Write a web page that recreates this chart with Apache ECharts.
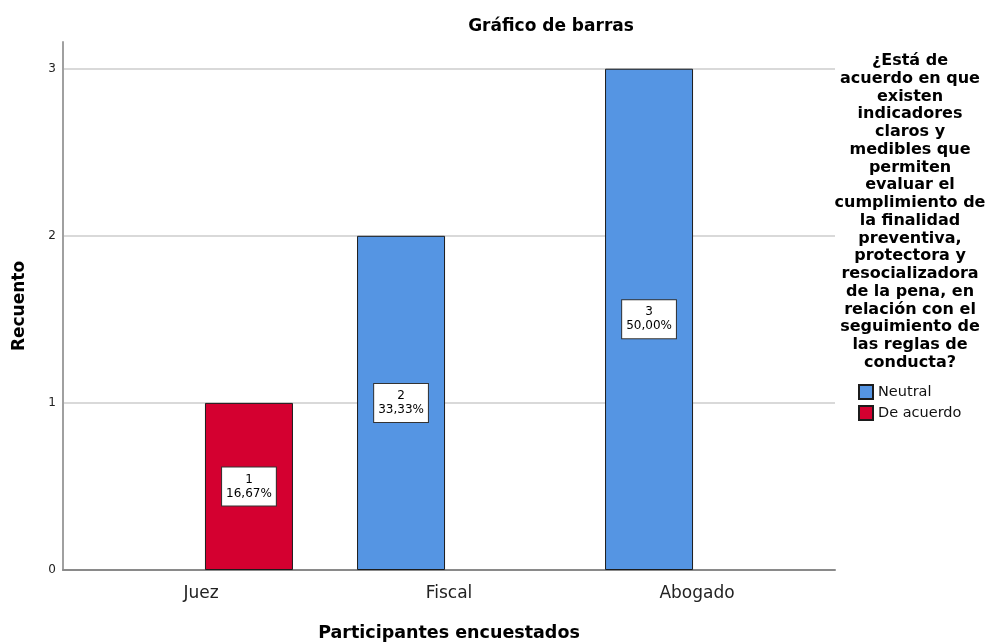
<!DOCTYPE html>
<html>
<head>
<meta charset="utf-8">
<script src="https://cdn.jsdelivr.net/npm/echarts@6/dist/echarts.min.js"></script>
<style>html,body{margin:0;padding:0;background:#fff}#c{width:987px;height:644px}</style>
</head>
<body>
<div id="c"></div>
<script>
const categories = ['Juez', 'Fiscal', 'Abogado'];
const neutral = [0, 2, 3];
const deAcuerdo = [1, 0, 0];
const yTicks = [0, 1, 2, 3];
const legendTitle = ['¿Está de', 'acuerdo en que', 'existen', 'indicadores', 'claros y', 'medibles que', 'permiten', 'evaluar el', 'cumplimiento de', 'la finalidad', 'preventiva,', 'protectora y', 'resocializadora', 'de la pena, en', 'relación con el', 'seguimiento de', 'las reglas de', 'conducta?'];

const total = neutral.reduce((a, b) => a + b, 0) + deAcuerdo.reduce((a, b) => a + b, 0);
const fmtPct = v => (v / total * 100).toFixed(2).replace('.', ',') + '%';
const toData = arr => arr.map(v => v === 0 ? '-' : v);

const FONT = '"DejaVu Sans", "Liberation Sans", Arial, sans-serif';
const YMAX = 3.16;

const labelCfg = {
  show: true,
  position: 'inside',
  formatter: p => p.value + '\n' + fmtPct(p.value),
  color: '#000',
  fontFamily: FONT,
  fontSize: 12,
  lineHeight: 14,
  backgroundColor: '#fff',
  borderColor: '#333',
  borderWidth: 1,
  padding: [5, 4, 5, 4],
  align: 'center'
};

const chart = echarts.init(document.getElementById('c'), null, { renderer: 'canvas' });
chart.setOption({
  animation: false,
  backgroundColor: '#fff',
  title: {
    text: 'Gráfico de barras',
    left: 551,
    textAlign: 'center',
    top: 18,
    padding: 0,
    textStyle: { fontFamily: FONT, fontSize: 17, fontWeight: 'bold', color: '#000' }
  },
  legend: {
    orient: 'vertical',
    left: 858,
    top: 384,
    padding: 0,
    itemWidth: 14,
    itemHeight: 14,
    itemGap: 5,
    icon: 'rect',
    data: ['Neutral', 'De acuerdo'],
    textStyle: { fontFamily: FONT, fontSize: 14.5, color: '#111' }
  },
  graphic: [{
    type: 'text',
    left: 910 - 80,
    top: 52,
    style: {
      text: legendTitle.join('\n'),
      width: 160,
      align: 'center',
      x: 80,
      textAlign: 'center',
      fontFamily: FONT,
      fontSize: 16,
      fontWeight: 'bold',
      lineHeight: 17.75,
      fill: '#000'
    }
  }],
  grid: [
    { left: 63, right: 152, top: 42, bottom: 74, outerBoundsMode: 'none', containLabel: false },
    { left: 77, right: 166, top: 42, bottom: 74, outerBoundsMode: 'none', containLabel: false }
  ],
  xAxis: [
    {
      gridIndex: 0, type: 'category', data: [''],
      axisLine: { lineStyle: { color: '#8a8a8a', width: 2 } },
      axisTick: { show: false }, axisLabel: { show: false }
    },
    {
      gridIndex: 1, type: 'category', data: categories,
      axisLine: { show: false }, axisTick: { show: false },
      axisLabel: { margin: 15, fontFamily: FONT, fontSize: 17, color: '#222' },
      name: 'Participantes encuestados',
      nameLocation: 'middle',
      nameGap: 54,
      nameTextStyle: { fontFamily: FONT, fontSize: 17.5, fontWeight: 'bold', color: '#000' }
    }
  ],
  yAxis: [
    {
      gridIndex: 0, type: 'value', min: 0, max: YMAX, interval: 1,
      axisLine: { show: true, lineStyle: { color: '#a0a0a0', width: 2 } },
      axisTick: { show: false },
      axisLabel: {
        margin: 7, fontFamily: FONT, fontSize: 12, color: '#222',
        formatter: v => yTicks.includes(v) ? String(v) : ''
      },
      splitLine: { show: true, showMaxLine: false, lineStyle: { color: '#d9d9d9', width: 2 } },
      name: 'Recuento',
      nameLocation: 'middle',
      nameGap: 35,
      nameTextStyle: { fontFamily: FONT, fontSize: 17, fontWeight: 'bold', color: '#000' }
    },
    {
      gridIndex: 1, type: 'value', min: 0, max: YMAX, interval: 1, show: false
    }
  ],
  series: [
    {
      name: 'Neutral', type: 'bar', xAxisIndex: 1, yAxisIndex: 1,
      data: toData(neutral), barWidth: 88, barGap: '9%',
      itemStyle: { color: '#5595e3', borderColor: '#1c1c1c', borderWidth: 1 },
      label: labelCfg
    },
    {
      name: 'De acuerdo', type: 'bar', xAxisIndex: 1, yAxisIndex: 1,
      data: toData(deAcuerdo), barWidth: 88, barGap: '9%',
      itemStyle: { color: '#d40030', borderColor: '#1c1c1c', borderWidth: 1 },
      label: labelCfg
    }
  ]
});
</script>
</body>
</html>
